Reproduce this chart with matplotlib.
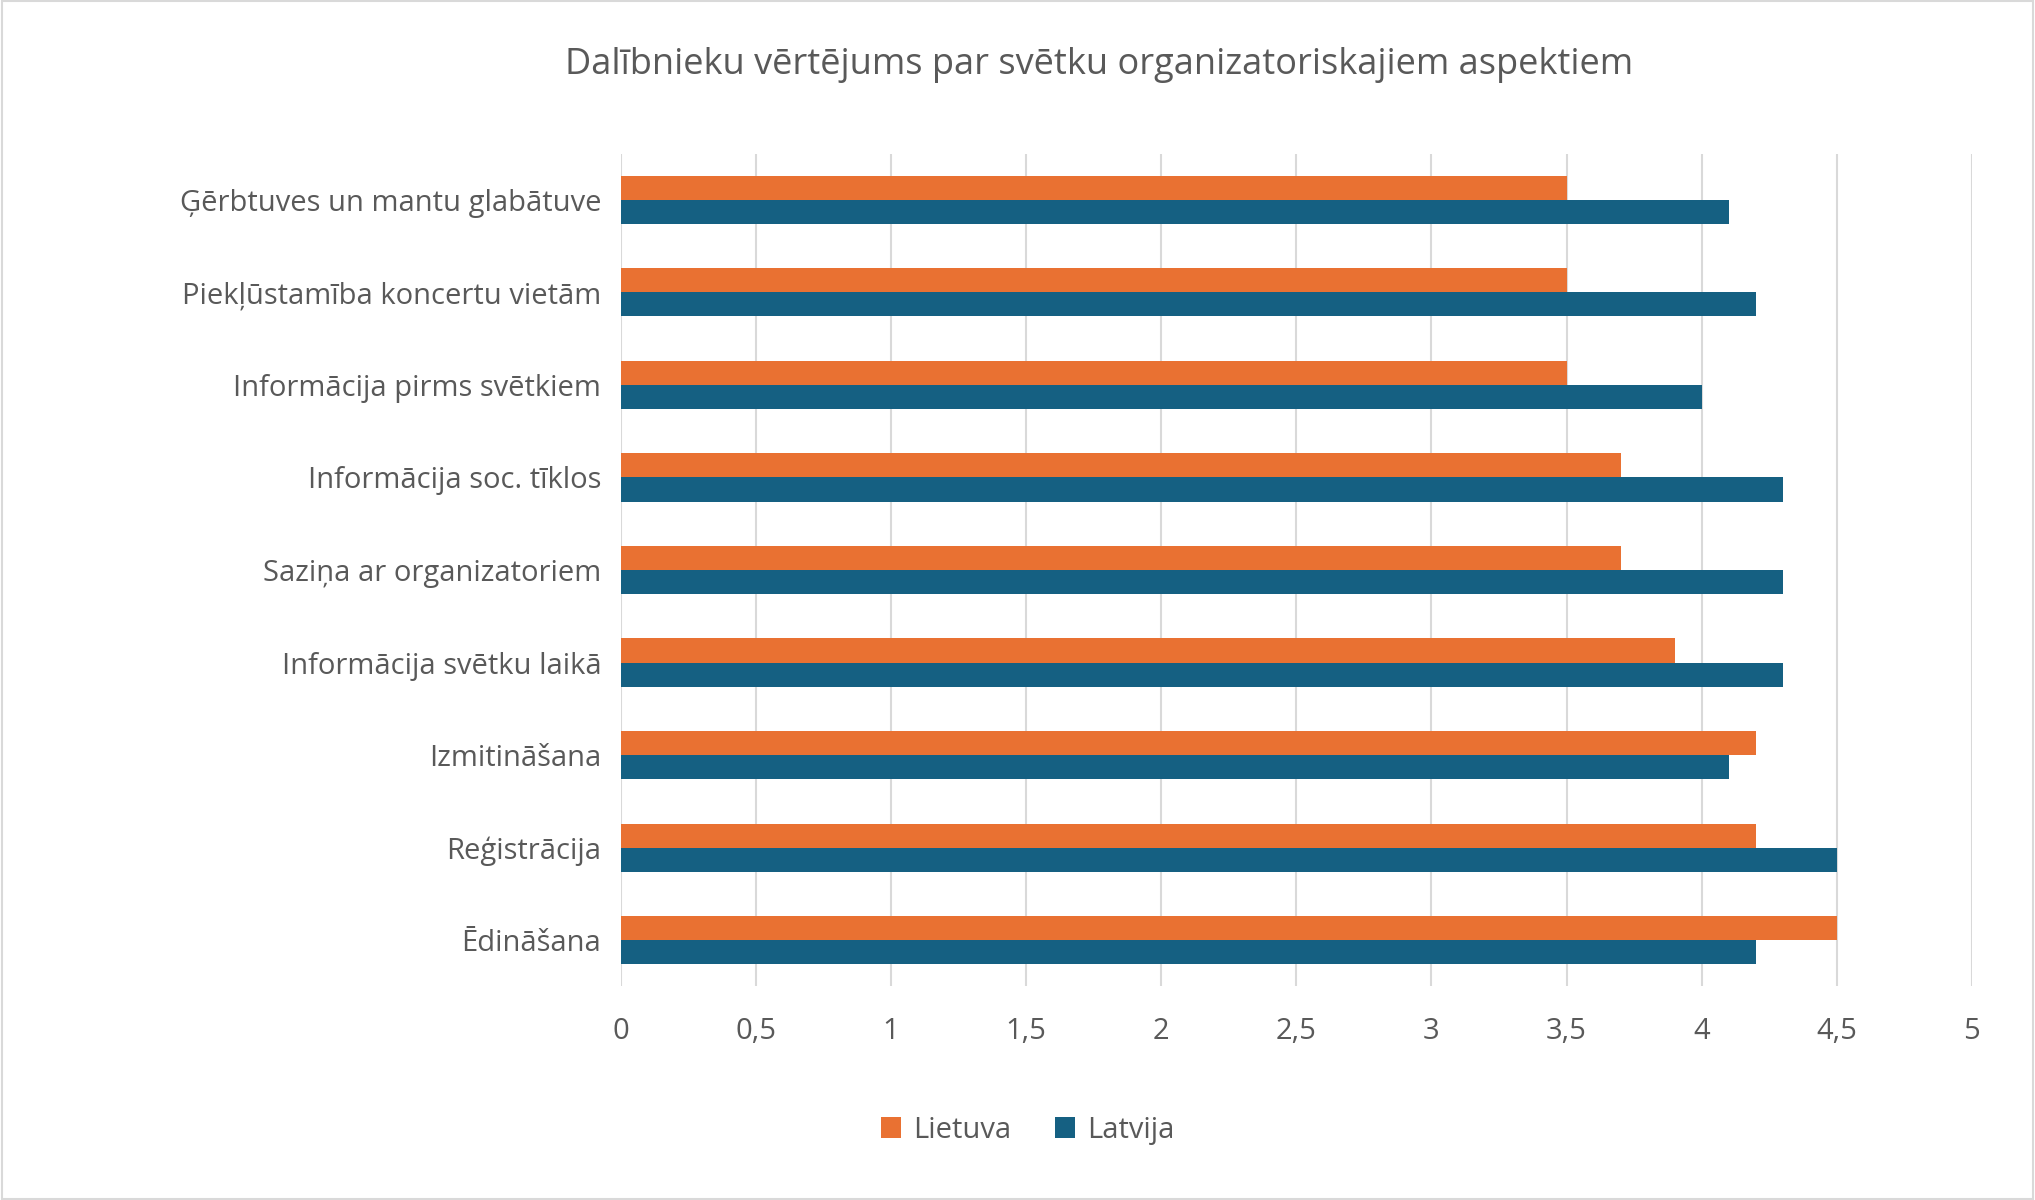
import matplotlib
matplotlib.use("Agg")
import matplotlib.pyplot as plt
import numpy as np

categories = ["Ģērbtuves un mantu glabātuve", "Piekļūstamība koncertu vietām",
              "Informācija pirms svētkiem", "Informācija soc. tīklos",
              "Saziņa ar organizatoriem", "Informācija svētku laikā",
              "Izmitināšana", "Reģistrācija", "Ēdināšana"]
lietuva = [3.5, 3.5, 3.5, 3.7, 3.7, 3.9, 4.2, 4.2, 4.5]
latvija = [4.1, 4.2, 4.0, 4.3, 4.3, 4.3, 4.1, 4.5, 4.2]
xticks = [0, 0.5, 1, 1.5, 2, 2.5, 3, 3.5, 4, 4.5, 5]
xticklabels = ["0", "0,5", "1", "1,5", "2", "2,5", "3", "3,5", "4", "4,5", "5"]

plt.rcParams['font.family'] = ['Open Sans', 'DejaVu Sans']
txt = "#595959"
fig = plt.figure(figsize=(20.35, 12), dpi=100)
ax = fig.add_axes([0.305, 0.178, 0.664, 0.694])
n = len(categories)
y = np.arange(n)[::-1].astype(float)
h = 0.26
ax.barh(y + h/2, lietuva, height=h, color="#E97132", label="Lietuva", zorder=3)
ax.barh(y - h/2, latvija, height=h, color="#156082", label="Latvija", zorder=3)
ax.set_yticks(y)
ax.set_yticklabels(categories, fontsize=21, color=txt)
ax.set_xticks(xticks)
ax.set_xticklabels(xticklabels, fontsize=21, color=txt)
ax.set_xlim(0, 5)
ax.set_ylim(-0.5, n - 0.5)
ax.grid(axis='x', color="#D9D9D9", linewidth=1.5, zorder=0)
for s in ax.spines.values():
    s.set_visible(False)
ax.tick_params(length=0, pad=14)
ax.tick_params(axis='x', pad=22)
fig.text(0.54, 0.946, "Dalībnieku vērtējums par svētku organizatoriskajiem aspektiem",
         ha='center', va='center', fontsize=26, color=txt)
fig.legend(loc='center', bbox_to_anchor=(0.505, 0.058), ncol=2, frameon=False,
           fontsize=21, labelcolor=txt, handlelength=0.7, handleheight=0.7,
           columnspacing=1.5, handletextpad=0.4)
fig.patches.append(plt.Rectangle((0.001, 0.001), 0.998, 0.998, transform=fig.transFigure,
                                 fill=False, edgecolor="#D9D9D9", linewidth=1.5))
fig.savefig("out.png", dpi=100, facecolor="white")
